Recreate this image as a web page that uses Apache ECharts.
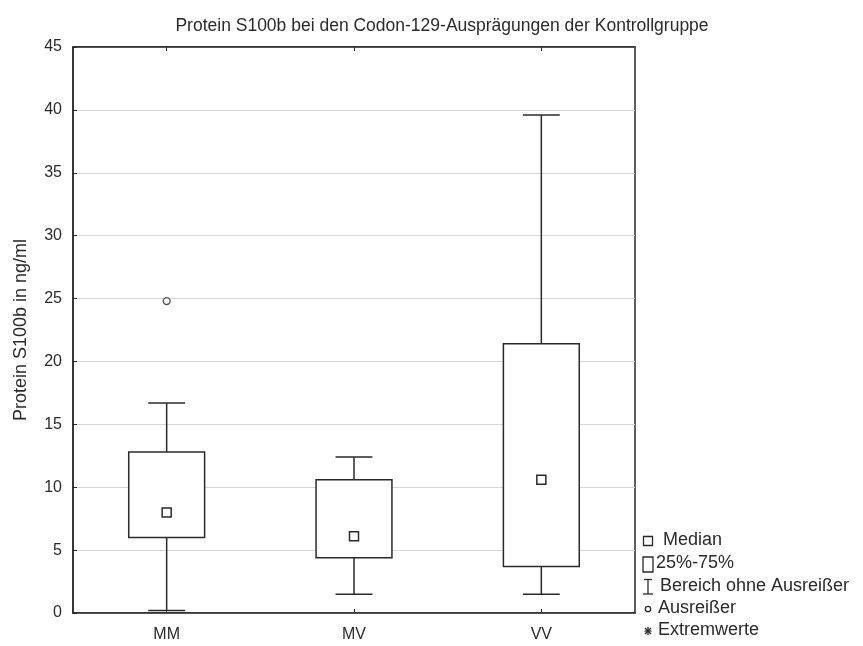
<!DOCTYPE html>
<html>
<head>
<meta charset="utf-8">
<script src="https://cdn.jsdelivr.net/npm/echarts@6/dist/echarts.min.js"></script>
<style>
  html, body { margin: 0; padding: 0; background: #fff; }
  #chart { width: 863px; height: 646px; }
</style>
</head>
<body>
<div id="chart"></div>
<script>
// Codon-129 genotypes of the control group
const categories = ['MM', 'MV', 'VV'];
// Box plot statistics (ng/ml)
const whiskerLow  = [0.2, 1.5, 1.5];
const quartile1   = [6.0, 4.4, 3.7];
const medians     = [8.0, 6.1, 10.6];
const quartile3   = [12.8, 10.6, 21.4];
const whiskerHigh = [16.7, 12.4, 39.6];
// Outliers: [category, value]
const outliers = [['MM', 24.8]];
const yTicks = { min: 0, max: 45, interval: 5 };

const FONT = '"Liberation Sans", Arial, sans-serif';
const INK = '#2a2a2a';

const boxData = categories.map((c, i) => [i, whiskerLow[i], quartile1[i], medians[i], quartile3[i], whiskerHigh[i]]);

function renderBox(params, api) {
  const idx = api.value(0);
  const band = api.size([1, 0])[0];
  const boxW = band * 0.405;
  const capW = band * 0.197;
  const pLow = api.coord([idx, api.value(1)]);
  const pQ1 = api.coord([idx, api.value(2)]);
  const pMed = api.coord([idx, api.value(3)]);
  const pQ3 = api.coord([idx, api.value(4)]);
  const pHigh = api.coord([idx, api.value(5)]);
  const x = pMed[0];
  const lineStyle = { stroke: INK, lineWidth: 1.5, fill: null };
  const m = 9;
  return {
    type: 'group',
    children: [
      { type: 'line', shape: { x1: x, y1: pQ3[1], x2: x, y2: pHigh[1] }, style: lineStyle },
      { type: 'line', shape: { x1: x, y1: pQ1[1], x2: x, y2: pLow[1] }, style: lineStyle },
      { type: 'line', shape: { x1: x - capW / 2, y1: pHigh[1], x2: x + capW / 2, y2: pHigh[1] }, style: lineStyle },
      { type: 'line', shape: { x1: x - capW / 2, y1: pLow[1], x2: x + capW / 2, y2: pLow[1] }, style: lineStyle },
      { type: 'rect', shape: { x: x - boxW / 2, y: pQ3[1], width: boxW, height: pQ1[1] - pQ3[1] },
        style: { stroke: INK, lineWidth: 1.5, fill: '#fff' } },
      { type: 'rect', shape: { x: x - m / 2, y: pMed[1] - m / 2, width: m, height: m },
        style: { stroke: INK, lineWidth: 1.5, fill: '#fff' } }
    ]
  };
}

// Legend drawn as plain shapes and text
const LX = 648;
const legendText = (x, y, t) => ({
  type: 'text', left: x, top: y - 10,
  style: { text: t, font: '18px ' + FONT, fill: INK }
});
const stroke = { stroke: INK, lineWidth: 1.3, fill: null };
const legendGraphics = [
  { type: 'rect', shape: { x: LX - 4.5, y: 536.5, width: 9, height: 9 }, style: { stroke: INK, lineWidth: 1.3, fill: '#fff' } },
  legendText(663, 541, 'Median'),
  { type: 'rect', shape: { x: LX - 5, y: 557, width: 10, height: 15 }, style: { stroke: INK, lineWidth: 1.3, fill: '#fff' } },
  legendText(656, 564, '25%-75%'),
  { type: 'line', shape: { x1: LX - 4, y1: 579.5, x2: LX + 4, y2: 579.5 }, style: stroke },
  { type: 'line', shape: { x1: LX, y1: 579.5, x2: LX, y2: 594 }, style: stroke },
  { type: 'line', shape: { x1: LX - 5, y1: 594, x2: LX + 5, y2: 594 }, style: stroke },
  legendText(660, 587, 'Bereich ohne Ausreißer'),
  { type: 'circle', shape: { cx: LX, cy: 609, r: 2.7 }, style: stroke },
  legendText(658, 609, 'Ausreißer'),
  { type: 'line', shape: { x1: LX - 3.5, y1: 631, x2: LX + 3.5, y2: 631 }, style: stroke },
  { type: 'line', shape: { x1: LX, y1: 627, x2: LX, y2: 635 }, style: stroke },
  { type: 'line', shape: { x1: LX - 3, y1: 628, x2: LX + 3, y2: 634 }, style: stroke },
  { type: 'line', shape: { x1: LX + 3, y1: 628, x2: LX - 3, y2: 634 }, style: stroke },
  legendText(658, 631, 'Extremwerte')
];

const chart = echarts.init(document.getElementById('chart'), null, { renderer: 'canvas' });
chart.setOption({
  backgroundColor: '#fff',
  animation: false,
  title: {
    text: 'Protein S100b bei den Codon-129-Ausprägungen der Kontrollgruppe',
    left: 437, top: 12, textAlign: 'center',
    textStyle: { fontFamily: FONT, fontSize: 17.5, fontWeight: 'normal', color: INK }
  },
  grid: {
    left: 73, right: 228, top: 47, bottom: 33,
    show: true, borderColor: INK, borderWidth: 1.5, backgroundColor: 'transparent'
  },
  xAxis: [
    {
      type: 'category', data: categories, position: 'bottom',
      axisLine: { lineStyle: { color: INK, width: 1.5 } },
      axisTick: { show: true, inside: true, alignWithLabel: true, length: 4, lineStyle: { color: INK } },
      axisLabel: { fontFamily: FONT, fontSize: 16, color: INK, margin: 14 },
      splitLine: { show: false }
    },
    {
      type: 'category', data: categories, position: 'top',
      axisLine: { lineStyle: { color: INK, width: 1.5 } },
      axisTick: { show: true, inside: true, alignWithLabel: true, length: 4, lineStyle: { color: INK } },
      axisLabel: { show: false },
      splitLine: { show: false }
    }
  ],
  yAxis: {
    type: 'value', min: yTicks.min, max: yTicks.max, interval: yTicks.interval,
    name: 'Protein S100b in ng/ml', nameLocation: 'middle', nameGap: 43, nameRotate: 90,
    nameTextStyle: { fontFamily: FONT, fontSize: 18, color: INK },
    axisLine: { show: true, lineStyle: { color: INK, width: 1.5 } },
    axisTick: { show: true, inside: true, length: 4, lineStyle: { color: INK } },
    axisLabel: { fontFamily: FONT, fontSize: 16, color: INK, margin: 11 },
    splitLine: { show: true, lineStyle: { color: '#d6d6d6', width: 1 } }
  },
  series: [
    {
      type: 'custom', xAxisIndex: 0, renderItem: renderBox, data: boxData,
      encode: { x: 0, y: [1, 2, 3, 4, 5] }, z: 5
    },
    {
      type: 'scatter', xAxisIndex: 0, data: outliers,
      symbol: 'circle', symbolSize: 7,
      itemStyle: { color: '#fff', borderColor: INK, borderWidth: 1.3 }, z: 6
    }
  ],
  graphic: legendGraphics
});
</script>
</body>
</html>
